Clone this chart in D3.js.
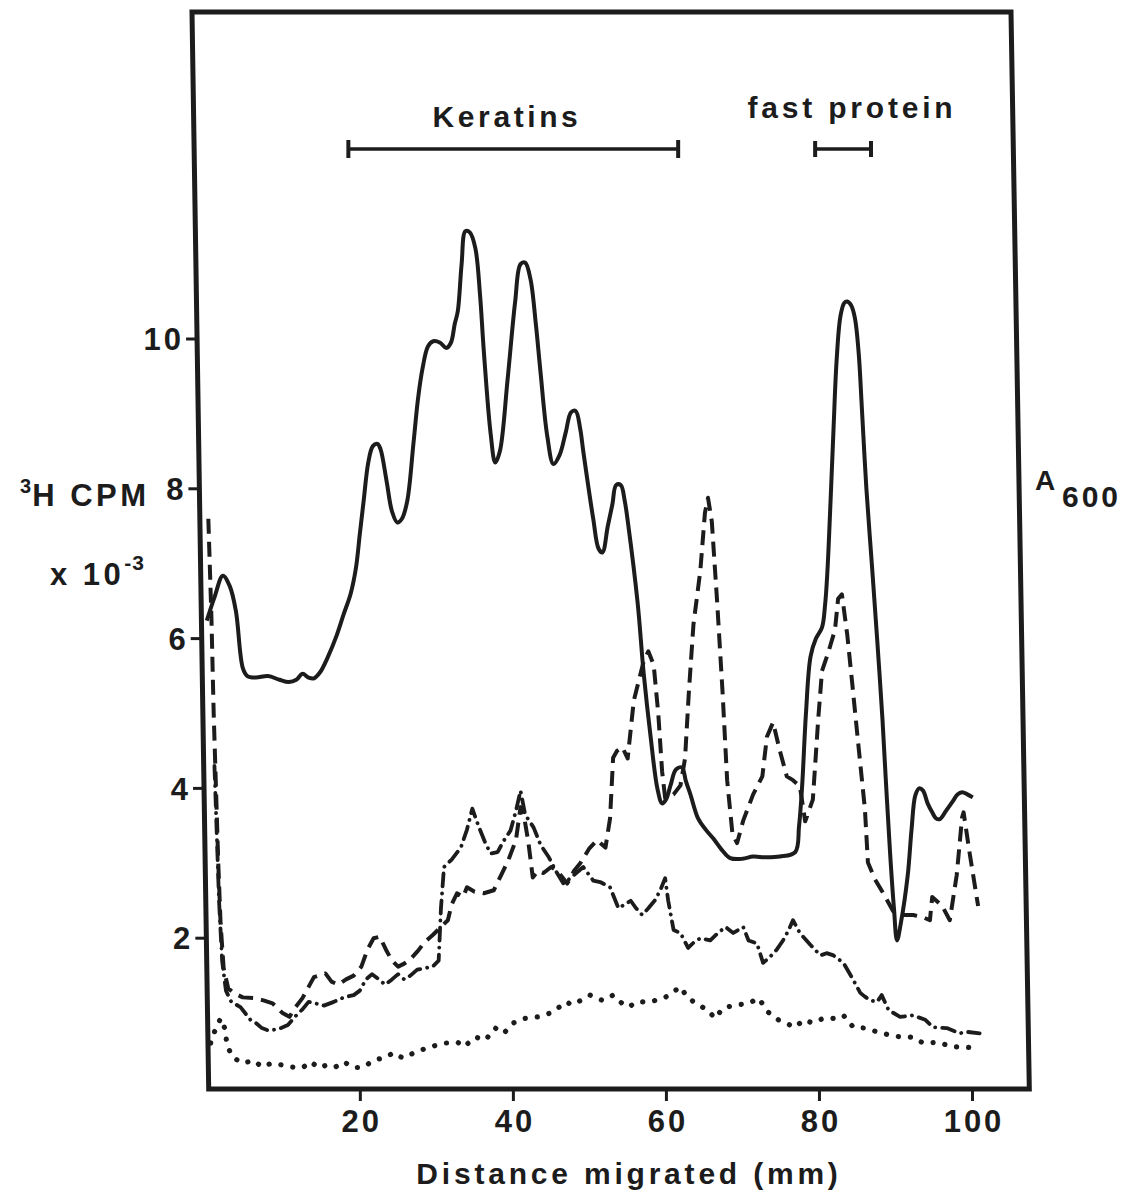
<!DOCTYPE html>
<html>
<head>
<meta charset="utf-8">
<script src="https://cdn.jsdelivr.net/npm/d3@7"></script>
<style>
  html, body { margin: 0; padding: 0; background: #fff; }
  svg { display: block; }
  text { font-family: "Liberation Sans", Arial, Helvetica, sans-serif; font-weight: bold; fill: #1c1c1c; }
</style>
</head>
<body>
<svg id="chart" width="1136" height="1201"></svg>
<script>
// Distance migrated (mm) vs. 3H CPM x 10^-3 / A600 profiles

const xTicks = [20, 40, 60, 80, 100];
const yTicks = [2, 4, 6, 8, 10];

// A600 stain profile (solid)
const absorbance = [
  [0,6.24],[1.0,6.55],[2.1,6.84],[3.0,6.7],[3.8,6.37],[4.7,5.61],[5.3,5.5],[6.4,5.48],[8.0,5.5],[9.5,5.45],
  [10.7,5.42],[11.7,5.45],[12.5,5.53],[13.3,5.48],[14.0,5.47],[14.8,5.55],[15.8,5.75],[17.0,6.05],[17.9,6.33],
  [18.8,6.6],[19.5,6.95],[20.0,7.4],[20.5,7.84],[21.1,8.35],[21.7,8.57],[22.3,8.6],[22.7,8.53],[23.5,8.1],
  [24.2,7.7],[24.9,7.55],[25.5,7.6],[26.2,7.84],[27.0,8.6],[27.6,9.2],[28.2,9.61],[28.9,9.9],[29.6,9.97],
  [30.5,9.95],[31.3,9.88],[31.9,9.95],[32.4,10.2],[32.8,10.37],[33.3,11.0],[33.8,11.44],[34.4,11.42],
  [35.1,11.21],[35.7,10.6],[36.2,9.84],[37.1,8.73],[37.7,8.35],[38.3,8.5],[39.3,9.45],[40.3,10.5],[41.0,11.0],
  [41.6,11.02],[42.3,10.8],[43.0,10.2],[43.6,9.57],[44.5,8.7],[45.3,8.33],[46.1,8.45],[46.9,8.75],[47.6,9.02],
  [48.2,9.04],[48.8,8.8],[49.2,8.5],[50.5,7.6],[51.2,7.2],[51.7,7.15],[52.4,7.5],[53.0,7.79],[53.5,8.05],
  [54.1,8.05],[54.6,7.85],[55.1,7.5],[56.3,6.48],[57.1,5.53],[58.0,4.69],[58.9,3.99],[59.5,3.8],[60.0,3.85],
  [60.6,4.04],[61.3,4.25],[62.1,4.28],[62.6,4.1],[63.2,3.92],[64.2,3.6],[65.2,3.45],[66.2,3.33],[67.3,3.18],
  [68.4,3.07],[70.0,3.06],[71.4,3.09],[73.0,3.08],[74.9,3.09],[76.9,3.15],[77.4,3.5],[77.8,4.03],[78.3,5.0],
  [78.9,5.76],[79.6,6.0],[80.4,6.15],[80.8,6.45],[81.1,6.89],[81.5,7.8],[81.9,8.79],[82.3,9.7],[82.8,10.3],
  [83.3,10.48],[83.7,10.5],[84.2,10.45],[84.7,10.28],[85.2,9.8],[85.6,9.09],[86.2,8.0],[86.9,7.01],[87.6,6.0],
  [88.3,4.92],[88.8,4.0],[89.3,3.13],[89.8,2.4],[90.2,1.97],[90.7,2.2],[91.6,2.84],[92.1,3.45],[92.6,3.91],
  [93.1,4.0],[93.6,3.97],[94.2,3.8],[94.8,3.68],[95.3,3.6],[95.8,3.59],[96.6,3.7],[97.5,3.83],[98.1,3.92],
  [98.7,3.95],[99.4,3.92],[100.1,3.88]
];

// 3H CPM x 10^-3, first label (long dashes)
const cpmDashed = [
  [0.2,7.6],[0.6,6.3],[0.9,5.0],[1.2,4.0],[1.5,3.0],[1.8,2.2],[2.2,1.6],[2.8,1.33],[3.5,1.27],[4.7,1.21],
  [6.1,1.2],[7.4,1.17],[8.6,1.13],[9.9,1.0],[10.8,0.95],[11.6,1.08],[12.5,1.2],[13.3,1.35],[14.0,1.48],
  [15.5,1.53],[16.3,1.42],[17.2,1.38],[18.2,1.45],[19.2,1.5],[20.2,1.62],[21.0,1.85],[21.8,2.0],[22.6,2.02],
  [23.4,1.85],[24.2,1.7],[25.0,1.62],[25.8,1.66],[26.6,1.72],[27.5,1.82],[28.5,1.95],[29.6,2.05],[30.6,2.15],
  [31.5,2.24],[32.0,2.45],[32.7,2.6],[33.5,2.55],[34.0,2.68],[35.0,2.62],[36.2,2.6],[37.5,2.64],[38.5,2.85],
  [39.4,3.04],[40.4,3.31],[41.0,3.75],[41.5,3.6],[42.0,3.3],[42.6,2.81],[43.3,2.9],[44.0,2.87],[45.0,2.95],
  [45.8,2.9],[47.1,2.73],[48.0,2.9],[48.8,3.0],[50.0,3.2],[51.0,3.31],[52.1,3.21],[52.7,3.6],[53.1,4.41],
  [53.6,4.5],[54.3,4.55],[55.0,4.4],[55.8,5.17],[57.1,5.7],[57.7,5.83],[58.4,5.65],[59.0,5.0],[59.5,4.23],
  [59.9,3.87],[61.0,3.92],[61.9,4.04],[62.5,4.4],[63.0,5.29],[63.6,6.19],[64.5,6.91],[65.1,7.68],[65.5,7.88],
  [66.0,7.56],[66.7,6.48],[67.4,5.29],[68.0,4.11],[68.7,3.39],[69.3,3.27],[70.1,3.57],[71.4,3.92],[72.6,4.16],
  [73.2,4.69],[74.0,4.88],[74.9,4.5],[75.8,4.16],[76.6,4.11],[77.5,4.03],[78.2,3.56],[79.2,3.85],[79.9,4.92],
  [80.4,5.57],[81.2,5.81],[82.1,6.12],[82.5,6.53],[83.0,6.59],[83.7,6.05],[84.3,5.45],[85.1,4.63],[86.0,3.73],
  [86.4,3.01],[87.3,2.79],[88.4,2.6],[89.7,2.36],[91.0,2.31],[92.3,2.31],[93.6,2.28],[94.5,2.24],[94.8,2.55],
  [96.1,2.43],[97.1,2.24],[98.0,2.84],[98.7,3.61],[98.9,3.68],[99.7,3.13],[100.8,2.43]
];

// 3H CPM x 10^-3, second label (dash-dot)
const cpmDashDot = [
  [1.0,4.3],[1.3,3.4],[1.6,2.5],[2.0,1.7],[2.5,1.3],[3.2,1.15],[4.4,1.08],[5.7,0.91],[6.4,0.87],[7.2,0.8],
  [8.0,0.77],[9.0,0.78],[9.7,0.8],[10.6,0.84],[11.5,0.95],[12.5,1.05],[13.3,1.15],[14.2,1.13],[15.3,1.1],
  [16.6,1.15],[17.9,1.21],[19.2,1.24],[20.0,1.3],[20.8,1.45],[21.6,1.52],[22.5,1.45],[23.3,1.38],[24.2,1.45],
  [25.0,1.52],[25.8,1.45],[26.6,1.5],[27.5,1.58],[28.5,1.6],[29.5,1.62],[30.3,1.7],[30.6,2.4],[31.0,2.95],
  [32.0,3.05],[33.2,3.21],[34.0,3.45],[34.7,3.73],[35.5,3.5],[36.4,3.27],[37.1,3.13],[38.0,3.15],[38.8,3.3],
  [39.7,3.44],[40.4,3.7],[41.0,3.97],[41.6,3.65],[42.7,3.48],[43.6,3.25],[44.7,3.08],[45.6,2.9],[46.6,2.73],
  [47.5,2.8],[48.4,2.88],[49.2,2.95],[50.5,2.77],[51.4,2.75],[52.7,2.68],[53.8,2.4],[54.6,2.45],[55.4,2.5],
  [56.1,2.4],[56.9,2.31],[57.7,2.4],[58.6,2.51],[59.3,2.65],[59.9,2.8],[60.3,2.5],[61.0,2.11],[61.9,2.07],
  [62.9,1.87],[63.7,1.95],[64.5,2.0],[65.8,1.97],[66.8,2.07],[67.8,2.15],[68.8,2.07],[70.1,2.15],[70.8,1.97],
  [71.9,1.93],[72.7,1.67],[73.6,1.75],[74.5,1.85],[75.3,1.97],[76.0,2.1],[76.6,2.24],[77.5,2.07],[78.9,1.91],
  [80.2,1.77],[81.0,1.8],[81.9,1.77],[83.2,1.67],[84.5,1.44],[85.4,1.27],[86.0,1.22],[86.7,1.17],[87.6,1.15],
  [88.2,1.24],[89.1,1.04],[90.6,0.95],[92.3,0.97],[93.9,0.91],[94.9,0.81],[96.7,0.8],[98.4,0.73],[99.3,0.75],
  [101.0,0.73]
];

// 3H CPM x 10^-3, control (dotted)
const cpmDotted = [
  [0.5,0.6],[1.0,0.75],[1.8,0.93],[2.3,0.81],[2.7,0.55],[3.5,0.4],[4.8,0.33],[6.0,0.37],[7.3,0.28],[8.4,0.33],
  [9.7,0.31],[11.0,0.28],[12.5,0.27],[13.6,0.35],[14.6,0.27],[15.8,0.31],[16.8,0.28],[17.9,0.35],[19.2,0.27],
  [20.5,0.28],[21.8,0.37],[23.4,0.41],[24.4,0.47],[25.6,0.4],[27.3,0.48],[29.2,0.55],[31.2,0.6],[32.8,0.61],
  [33.6,0.55],[35.1,0.68],[36.4,0.64],[37.7,0.8],[38.8,0.73],[40.1,0.87],[41.6,0.93],[43.3,0.95],[45.2,1.01],
  [46.9,1.15],[47.8,1.11],[50.1,1.24],[51.7,1.17],[53.1,1.24],[54.0,1.15],[55.1,1.08],[56.2,1.15],[58.0,1.15],
  [59.9,1.21],[61.9,1.35],[62.8,1.21],[64.2,1.11],[65.5,1.04],[66.4,0.93],[67.5,1.07],[69.3,1.11],[70.8,1.13],
  [72.1,1.2],[73.4,1.01],[74.7,0.91],[76.9,0.81],[78.0,0.91],[79.1,0.87],[80.6,0.93],[82.1,0.93],[83.2,0.97],
  [84.5,0.81],[86.0,0.8],[87.6,0.75],[89.1,0.71],[90.8,0.68],[92.2,0.68],[93.6,0.6],[95.6,0.61],[97.4,0.55],
  [98.8,0.55],[100.6,0.53]
];

// Band ranges (mm)
const keratinRange = [18.5, 61.6];
const fastProteinRange = [79.5, 86.8];

const ink = "#1c1c1c";
const fontStack = '"Liberation Sans", Arial, Helvetica, sans-serif';
const svg = d3.select("#chart");

const x = d3.scaleLinear().domain([0, 100]).range([206.8, 972]);
const y = d3.scaleLinear().domain([0, 10]).range([1088, 339]);

// the frame leans slightly to the right going down
const frameTop = 12, frameBottom = 1089;
const leftEdge = py => 192 + (py - frameTop) * 0.0155;
const rightEdge = py => 1011 + (py - frameTop) * 0.017;

svg.append("path")
  .attr("d", `M${leftEdge(frameTop)},${frameTop} L${rightEdge(frameTop)},${frameTop} L${rightEdge(frameBottom)},${frameBottom} L${leftEdge(frameBottom)},${frameBottom} Z`)
  .attr("fill", "none").attr("stroke", ink).attr("stroke-width", 5).attr("stroke-linejoin", "miter");

// y axis (left)
const yAxis = svg.append("g")
  .call(d3.axisLeft(y).tickValues(yTicks).tickSize(11).tickPadding(2).tickFormat(d3.format("d")));
yAxis.select(".domain").remove();
yAxis.selectAll(".tick").attr("transform", d => `translate(${leftEdge(y(d))},${y(d)})`);
yAxis.selectAll(".tick line").attr("stroke", ink).attr("stroke-width", 3);
yAxis.selectAll(".tick text").attr("font-size", 31).attr("dy", "0.36em").attr("fill", ink)
  .attr("letter-spacing", 3)
  .style("font-family", fontStack).style("font-weight", "bold");

// x axis (bottom)
const xAxis = svg.append("g").attr("transform", `translate(0,${frameBottom})`)
  .call(d3.axisBottom(x).tickValues(xTicks).tickSize(12).tickPadding(9).tickFormat(d3.format("d")));
xAxis.select(".domain").remove();
xAxis.selectAll(".tick line").attr("stroke", ink).attr("stroke-width", 3);
xAxis.selectAll(".tick text").attr("font-size", 31).attr("fill", ink).attr("dy", "0.72em")
  .attr("letter-spacing", 3).attr("dx", 1.5)
  .style("font-family", fontStack).style("font-weight", "bold");

// curves
const line = d3.line().x(d => x(d[0])).y(d => y(d[1]));

svg.append("path").datum(absorbance)
  .attr("d", line.curve(d3.curveCatmullRom.alpha(0.5)))
  .attr("fill", "none").attr("stroke", ink).attr("stroke-width", 4).attr("stroke-linejoin", "round");

svg.append("path").datum(cpmDashed)
  .attr("d", line.curve(d3.curveLinear))
  .attr("fill", "none").attr("stroke", ink).attr("stroke-width", 4)
  .attr("stroke-dasharray", "15 8").attr("stroke-linejoin", "round");

svg.append("path").datum(cpmDashDot)
  .attr("d", line.curve(d3.curveLinear))
  .attr("fill", "none").attr("stroke", ink).attr("stroke-width", 3.8)
  .attr("stroke-dasharray", "13 7 0.1 7").attr("stroke-linecap", "round").attr("stroke-linejoin", "round");

svg.append("path").datum(cpmDotted)
  .attr("d", line.curve(d3.curveLinear))
  .attr("fill", "none").attr("stroke", ink).attr("stroke-width", 5.2)
  .attr("stroke-dasharray", "0.1 12").attr("stroke-linecap", "round");

// band brackets
function bracket(range, yPos, capHalf) {
  const g = svg.append("g").attr("stroke", ink).attr("stroke-width", 3.5);
  g.append("line").attr("x1", x(range[0])).attr("x2", x(range[1])).attr("y1", yPos).attr("y2", yPos);
  range.forEach(v => g.append("line").attr("x1", x(v)).attr("x2", x(v))
    .attr("y1", yPos - capHalf).attr("y2", yPos + capHalf).attr("stroke-width", 4));
}
bracket(keratinRange, 149, 9);
bracket(fastProteinRange, 149, 8);

svg.append("text").attr("x", 507).attr("y", 127)
  .attr("text-anchor", "middle").attr("font-size", 30).attr("letter-spacing", 3.6).text("Keratins");
svg.append("text").attr("x", 852).attr("y", 118)
  .attr("text-anchor", "middle").attr("font-size", 30).attr("letter-spacing", 3.8).text("fast protein");

// axis titles
svg.append("text").attr("x", 629).attr("y", 1184)
  .attr("text-anchor", "middle").attr("font-size", 30).attr("letter-spacing", 3.8)
  .text("Distance migrated (mm)");

const yl = svg.append("text").attr("x", 20).attr("y", 506).attr("font-size", 31).attr("letter-spacing", 3.5);
yl.append("tspan").attr("font-size", 20).attr("dy", -13).attr("letter-spacing", 1).text("3");
yl.append("tspan").attr("dy", 13).text("H CPM");

const yl2 = svg.append("text").attr("x", 50).attr("y", 585).attr("font-size", 31).attr("letter-spacing", 3.5);
yl2.append("tspan").text("x 10");
yl2.append("tspan").attr("font-size", 21).attr("dy", -15).attr("letter-spacing", 1).text("-3");

const al = svg.append("text").attr("x", 1035).attr("y", 490).attr("font-size", 28);
al.append("tspan").text("A");
al.append("tspan").attr("x", 1062).attr("y", 507).attr("font-size", 30).attr("letter-spacing", 3).text("600");
</script>
</body>
</html>
